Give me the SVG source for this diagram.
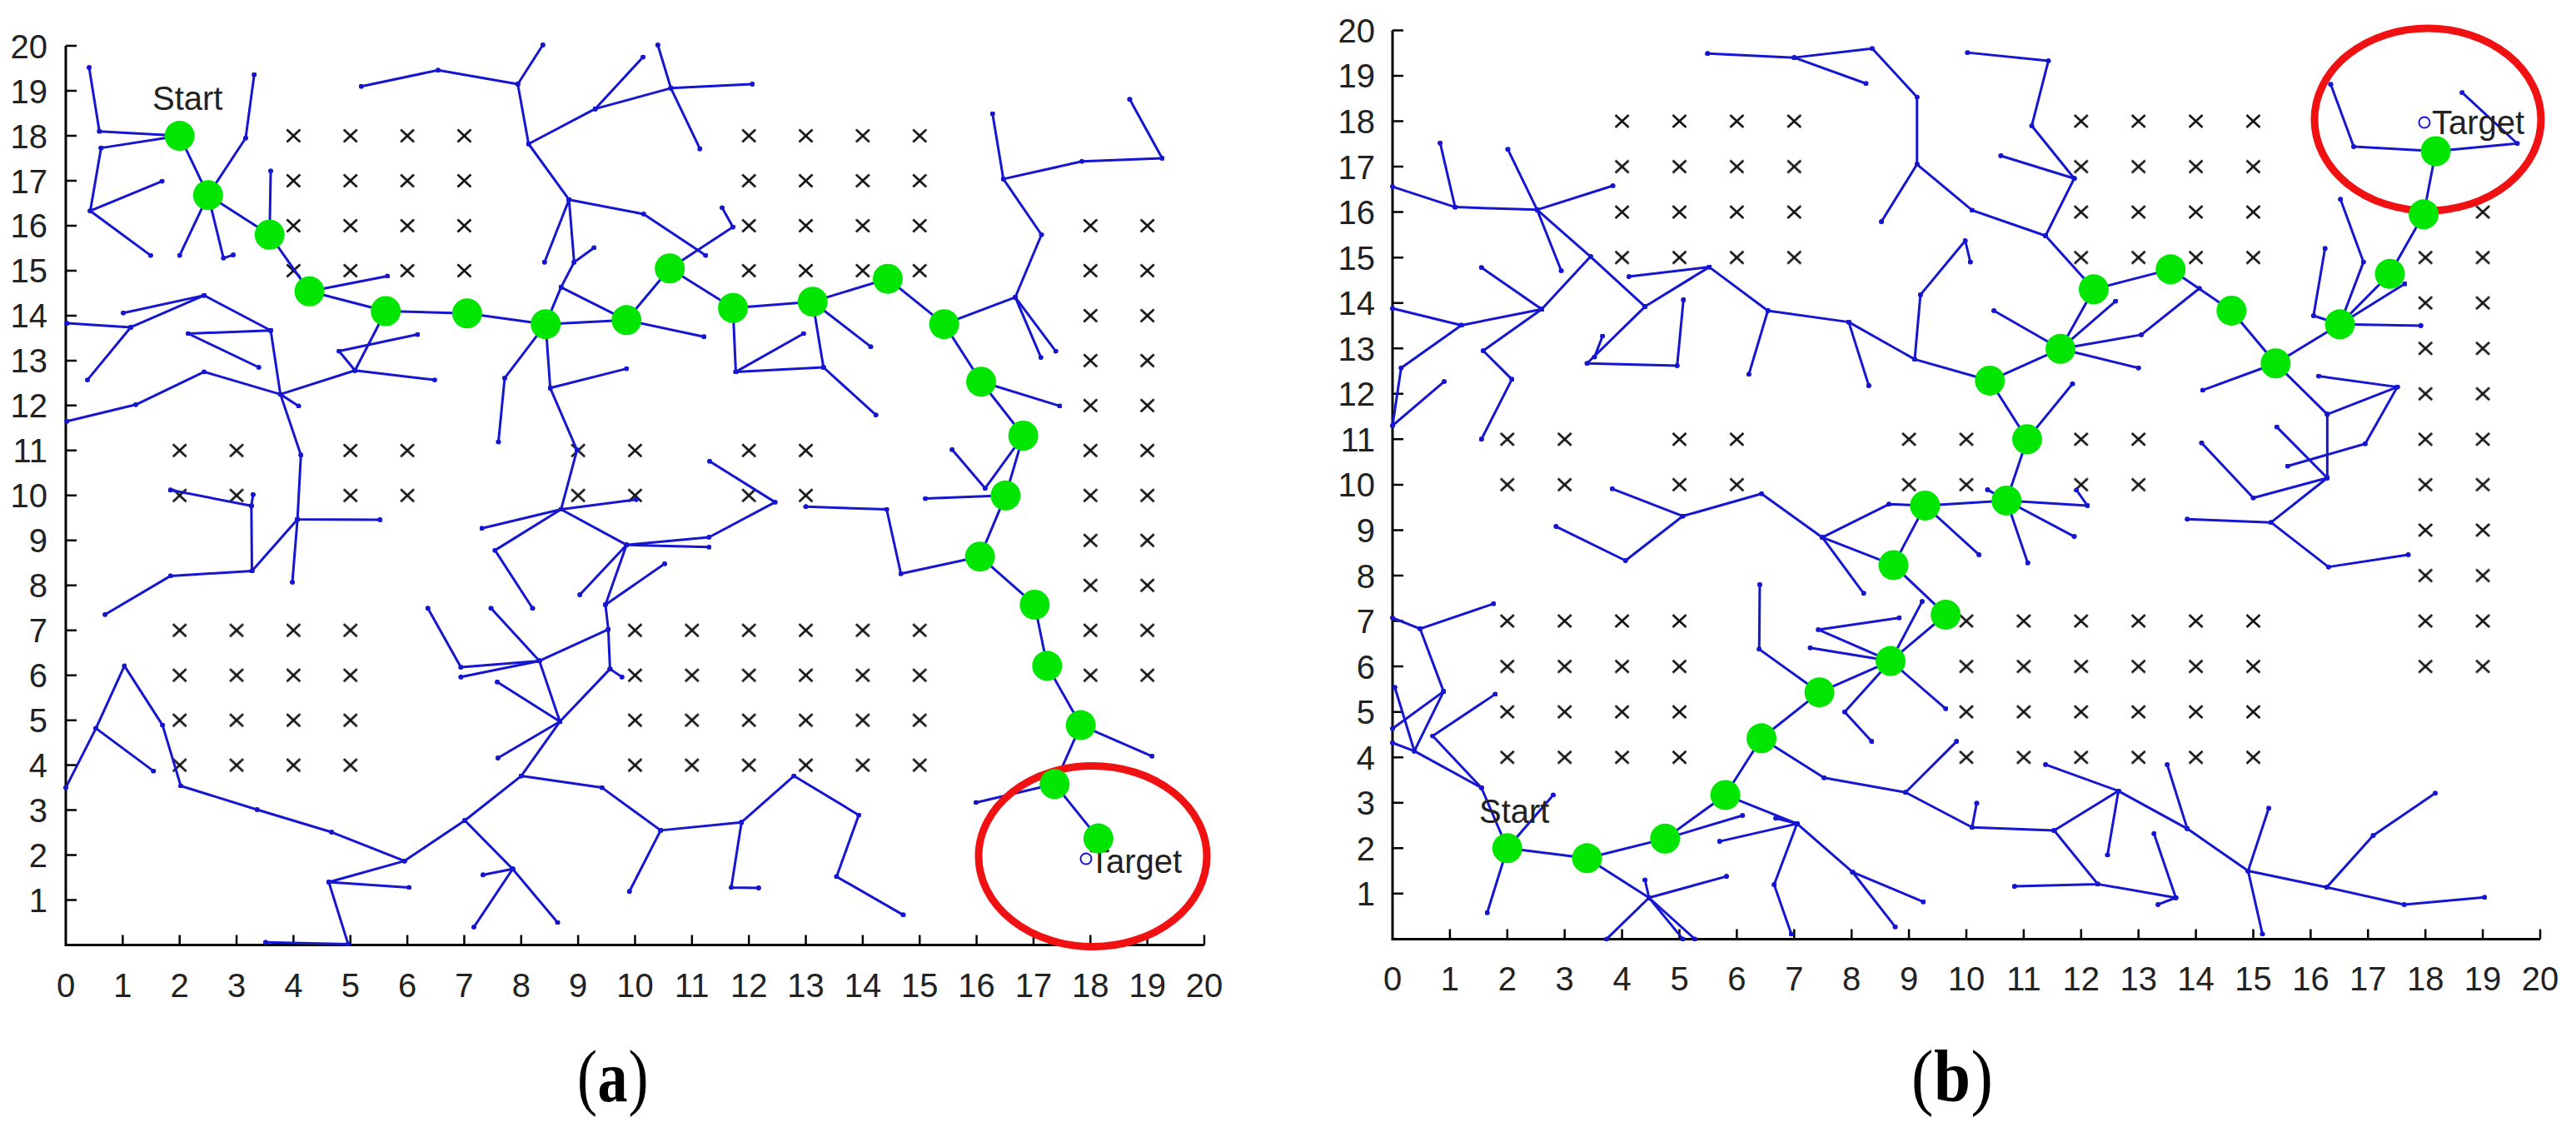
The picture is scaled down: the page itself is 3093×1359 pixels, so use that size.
<svg xmlns="http://www.w3.org/2000/svg" width="3093" height="1359" viewBox="0 0 3093 1359">
<style>
.t{fill:none;stroke:#1616d0;stroke-width:3;stroke-linejoin:round;stroke-linecap:round;vector-effect:non-scaling-stroke;marker-start:url(#dot);marker-mid:url(#dot);marker-end:url(#dot)}
.gn{fill:#00e600}
.ax{fill:none;stroke:#000;stroke-width:3}
.tk{fill:none;stroke:#000;stroke-width:2.5}
.lb{font-family:"Liberation Sans",Arial,sans-serif;font-size:40px;fill:#222}
.yl{text-anchor:end}
.xl{text-anchor:middle}
.red{fill:none;stroke:#f01212;stroke-width:9}
.tg{fill:none;stroke:#1616d0;stroke-width:2}
.cap{font-family:"Liberation Serif","Times New Roman",serif;font-size:88px;fill:#000}
.bd{font-weight:bold}
</style>
<defs>
<marker id="dot" viewBox="-1 -1 2 2" markerWidth="0.09" markerHeight="0.11" markerUnits="userSpaceOnUse" preserveAspectRatio="none" refX="0" refY="0"><circle r="1" fill="#1616d0"/></marker>
<pattern id="obsA" patternUnits="userSpaceOnUse" x="44.825" y="1107.515" width="68.35" height="53.97"><path d="M26.175,19.485L42.175,34.485M26.175,34.485L42.175,19.485" stroke="#111" stroke-width="2.6"/></pattern>
<pattern id="obsB" patternUnits="userSpaceOnUse" x="1637.55" y="1100.125" width="68.9" height="54.55"><path d="M26.45,19.775L42.45,34.775M26.45,34.775L42.45,19.775" stroke="#111" stroke-width="2.6"/></pattern>
</defs>
<rect width="3093" height="1359" fill="#fff"/>

<!-- ================= PANEL A ================= -->
<g id="panel-a">
<g id="obstacles-a" fill="url(#obsA)">
<rect x="318.225" y="136.055" width="273.4" height="215.88"/>
<rect x="865.025" y="136.055" width="273.4" height="215.88"/>
<rect x="1275.125" y="243.995" width="136.7" height="593.67"/>
<rect x="181.525" y="513.845" width="136.7" height="107.94"/>
<rect x="386.575" y="513.845" width="136.7" height="107.94"/>
<rect x="659.975" y="513.845" width="136.7" height="107.94"/>
<rect x="865.025" y="513.845" width="136.7" height="107.94"/>
<rect x="181.525" y="729.725" width="273.4" height="215.88"/>
<rect x="728.325" y="729.725" width="410.1" height="215.88"/>
</g>
<g id="axes-a">
<path class="ax" d="M79 55.1V1134.5H1446"/>
<path class="tk" d="M79 1080.53h13M79 1026.56h13M79 972.59h13M79 918.62h13M79 864.65h13M79 810.68h13M79 756.71h13M79 702.74h13M79 648.77h13M79 594.8h13M79 540.83h13M79 486.86h13M79 432.89h13M79 378.92h13M79 324.95h13M79 270.98h13M79 217.01h13M79 163.04h13M79 109.07h13M79 55.1h13M147.35 1134.5v-12M215.7 1134.5v-12M284.05 1134.5v-12M352.4 1134.5v-12M420.75 1134.5v-12M489.1 1134.5v-12M557.45 1134.5v-12M625.8 1134.5v-12M694.15 1134.5v-12M762.5 1134.5v-12M830.85 1134.5v-12M899.2 1134.5v-12M967.55 1134.5v-12M1035.9 1134.5v-12M1104.25 1134.5v-12M1172.6 1134.5v-12M1240.95 1134.5v-12M1309.3 1134.5v-12M1377.65 1134.5v-12M1446 1134.5v-12"/>
<text class="lb yl"><tspan x="57" y="1095.03">1</tspan><tspan x="57" y="1041.06">2</tspan><tspan x="57" y="987.09">3</tspan><tspan x="57" y="933.12">4</tspan><tspan x="57" y="879.15">5</tspan><tspan x="57" y="825.18">6</tspan><tspan x="57" y="771.21">7</tspan><tspan x="57" y="717.24">8</tspan><tspan x="57" y="663.27">9</tspan><tspan x="57" y="609.3">10</tspan><tspan x="57" y="555.33">11</tspan><tspan x="57" y="501.36">12</tspan><tspan x="57" y="447.39">13</tspan><tspan x="57" y="393.42">14</tspan><tspan x="57" y="339.45">15</tspan><tspan x="57" y="285.48">16</tspan><tspan x="57" y="231.51">17</tspan><tspan x="57" y="177.54">18</tspan><tspan x="57" y="123.57">19</tspan><tspan x="57" y="69.6">20</tspan></text>
<text class="lb xl"><tspan x="79" y="1197">0</tspan><tspan x="147.35" y="1197">1</tspan><tspan x="215.7" y="1197">2</tspan><tspan x="284.05" y="1197">3</tspan><tspan x="352.4" y="1197">4</tspan><tspan x="420.75" y="1197">5</tspan><tspan x="489.1" y="1197">6</tspan><tspan x="557.45" y="1197">7</tspan><tspan x="625.8" y="1197">8</tspan><tspan x="694.15" y="1197">9</tspan><tspan x="762.5" y="1197">10</tspan><tspan x="830.85" y="1197">11</tspan><tspan x="899.2" y="1197">12</tspan><tspan x="967.55" y="1197">13</tspan><tspan x="1035.9" y="1197">14</tspan><tspan x="1104.25" y="1197">15</tspan><tspan x="1172.6" y="1197">16</tspan><tspan x="1240.95" y="1197">17</tspan><tspan x="1309.3" y="1197">18</tspan><tspan x="1377.65" y="1197">19</tspan><tspan x="1446" y="1197">20</tspan></text>
</g>
<g id="connectors-a" transform="matrix(68.35 0 0 -53.97 79 1134.5)">
<polyline class="t" points="0.41,19.52 0.59,18.1 2,18"/>
<polyline class="t" points="0.62,17.73 2,18"/>
<polyline class="t" points="0.62,17.73 0.43,16.33 1.69,16.99"/>
<polyline class="t" points="0.43,16.33 1.49,15.34"/>
<polyline class="t" points="3.31,19.36 3.16,17.95 2.5,16.68"/>
<polyline class="t" points="2.5,16.68 2,15.34"/>
<polyline class="t" points="2.5,16.68 2.77,15.28 2.94,15.35"/>
<polyline class="t" points="3.58,15.8 3.6,17.22"/>
<polyline class="t" points="4.28,14.54 5.65,14.88"/>
<polyline class="t" points="5.62,14.1 5.08,12.78 4.8,13.21 6.18,13.58"/>
<polyline class="t" points="5.08,12.78 6.48,12.57"/>
<polyline class="t" points="5.08,12.78 3.77,12.25 4.09,11.99"/>
<polyline class="t" points="3.77,12.25 3.6,13.67 2.15,13.6 3.39,12.85"/>
<polyline class="t" points="3.6,13.67 2.43,14.45 1.01,14.06"/>
<polyline class="t" points="2.43,14.45 1.14,13.74 0.02,13.83"/>
<polyline class="t" points="1.14,13.74 0.38,12.57"/>
<polyline class="t" points="3.77,12.25 2.43,12.75 1.23,12.02 0.02,11.65"/>
<polyline class="t" points="3.77,12.25 4.13,10.9 4.07,9.47 5.52,9.46"/>
<polyline class="t" points="4.07,9.47 3.98,8.07"/>
<polyline class="t" points="4.07,9.47 3.27,8.32 3.26,9.77 3.29,10.02"/>
<polyline class="t" points="3.26,9.77 1.84,10.12"/>
<polyline class="t" points="3.27,8.32 1.84,8.21 0.69,7.35"/>
<polyline class="t" points="8.43,13.81 7.71,12.61 7.6,11.19"/>
<polyline class="t" points="8.43,13.81 8.51,12.39 9.85,12.82"/>
<polyline class="t" points="8.51,12.39 8.98,11.01 8.7,9.69"/>
<polyline class="t" points="8.43,13.81 8.7,14.63 8.93,15.19 9.28,15.51"/>
<polyline class="t" points="8.7,14.63 9.85,13.9"/>
<polyline class="t" points="8.93,15.19 8.84,16.58 8.41,15.19"/>
<polyline class="t" points="8.84,16.58 8.13,17.82 7.94,19.15 8.38,20.02"/>
<polyline class="t" points="7.94,19.15 6.54,19.46 5.19,19.1"/>
<polyline class="t" points="8.13,17.82 9.3,18.6 10.14,19.75"/>
<polyline class="t" points="9.3,18.6 10.63,19.06 10.4,20.02"/>
<polyline class="t" points="10.63,19.06 12.06,19.15"/>
<polyline class="t" points="10.63,19.06 11.14,17.71"/>
<polyline class="t" points="8.84,16.58 10.15,16.26 11.24,15.34"/>
<polyline class="t" points="10.61,15.05 11.72,15.97 11.53,16.4"/>
<polyline class="t" points="9.85,13.9 11.21,13.53"/>
<polyline class="t" points="11.72,14.17 11.77,12.75 12.96,13.6"/>
<polyline class="t" points="11.77,12.75 13.31,12.85 13.12,14.31"/>
<polyline class="t" points="13.31,12.85 14.23,11.79"/>
<polyline class="t" points="13.12,14.31 14.14,13.31"/>
<polyline class="t" points="15.43,13.81 16.68,14.41 17.14,15.8 16.47,17.04 16.28,18.49"/>
<polyline class="t" points="16.47,17.04 17.85,17.43 19.26,17.5 18.69,18.81"/>
<polyline class="t" points="16.68,14.41 17.13,13.07"/>
<polyline class="t" points="16.68,14.41 17.39,13.21"/>
<polyline class="t" points="16.08,12.53 17.46,11.99"/>
<polyline class="t" points="15.57,11.02 16.15,10.16 16.82,11.33"/>
<polyline class="t" points="15.1,9.93 16.51,10"/>
<polyline class="t" points="16.06,8.64 14.67,8.26 14.42,9.69 13,9.75"/>
<polyline class="t" points="17.83,4.89 19.08,4.2"/>
<polyline class="t" points="17.37,3.58 15.99,3.17"/>
<polyline class="t" points="11.31,10.76 12.46,9.85 11.3,9.07 9.85,8.9 11.3,8.85"/>
<polyline class="t" points="8.7,9.69 9.85,8.9"/>
<polyline class="t" points="8.7,9.69 10.02,9.91"/>
<polyline class="t" points="8.7,9.69 7.54,8.78 8.2,7.49"/>
<polyline class="t" points="8.7,9.69 7.31,9.27"/>
<polyline class="t" points="9.03,7.79 9.85,8.9 9.48,7.57 10.52,8.48"/>
<polyline class="t" points="9.48,7.57 9.53,7.02 9.56,6.14 9.77,5.96"/>
<polyline class="t" points="9.56,6.14 8.68,4.97"/>
<polyline class="t" points="9.53,7.02 8.32,6.32 6.94,6.18 6.36,7.49"/>
<polyline class="t" points="8.32,6.32 6.94,5.96"/>
<polyline class="t" points="8.32,6.32 7.47,7.49"/>
<polyline class="t" points="8.32,6.32 8.68,4.97 7.58,5.85"/>
<polyline class="t" points="8.68,4.97 7.59,4.16"/>
<polyline class="t" points="8.68,4.97 8,3.76 7.01,2.77 5.95,1.87"/>
<polyline class="t" points="8,3.76 9.42,3.5 10.45,2.55 11.87,2.73 12.79,3.76 13.93,2.89 13.54,1.52 14.71,0.67"/>
<polyline class="t" points="10.45,2.55 9.9,1.19"/>
<polyline class="t" points="11.87,2.73 11.69,1.28 12.17,1.27"/>
<polyline class="t" points="7.01,2.77 7.85,1.69 8.64,0.5"/>
<polyline class="t" points="7.85,1.69 7.17,0.4"/>
<polyline class="t" points="7.85,1.69 7.33,1.56"/>
<polyline class="t" points="5.95,1.87 4.62,1.4 4.96,0.02 3.51,0.06"/>
<polyline class="t" points="4.62,1.4 6.03,1.28"/>
<polyline class="t" points="5.95,1.87 4.67,2.51 3.36,3.01 2.02,3.54 1.7,4.89 1.03,6.21 0.53,4.82 0,3.5"/>
<polyline class="t" points="0.53,4.82 1.54,3.87"/>
<polyline id="path-a" class="t" points="2,18 2.5,16.68 3.58,15.8 4.28,14.54 5.62,14.1 7.05,14.05 8.43,13.81 9.85,13.9 10.61,15.05 11.72,14.17 13.12,14.31 14.44,14.82 15.43,13.81 16.08,12.53 16.82,11.33 16.51,10 16.06,8.64 17.02,7.57 17.24,6.21 17.83,4.89 17.37,3.58 18.14,2.37"/>
</g>
<g id="labels-a">
<text class="lb" x="183" y="132">Start</text>
<circle class="tg" cx="1304" cy="1031" r="6.5"/>
<text class="lb" x="1308" y="1048">Target</text>
</g>
<ellipse id="goal-region-a" class="red" cx="1312" cy="1028" rx="137" ry="108.5"/>
<g id="nodes-a" transform="matrix(68.35 0 0 -53.97 79 1134.5)">
<ellipse id="a-n1" class="gn" cx="2" cy="18" rx="0.263" ry="0.334"/>
<ellipse id="a-n2" class="gn" cx="2.5" cy="16.68" rx="0.263" ry="0.334"/>
<ellipse id="a-n3" class="gn" cx="3.58" cy="15.8" rx="0.263" ry="0.334"/>
<ellipse id="a-n4" class="gn" cx="4.28" cy="14.54" rx="0.263" ry="0.334"/>
<ellipse id="a-n5" class="gn" cx="5.62" cy="14.1" rx="0.263" ry="0.334"/>
<ellipse id="a-n6" class="gn" cx="7.05" cy="14.05" rx="0.263" ry="0.334"/>
<ellipse id="a-n7" class="gn" cx="8.43" cy="13.81" rx="0.263" ry="0.334"/>
<ellipse id="a-n8" class="gn" cx="9.85" cy="13.9" rx="0.263" ry="0.334"/>
<ellipse id="a-n9" class="gn" cx="10.61" cy="15.05" rx="0.263" ry="0.334"/>
<ellipse id="a-n10" class="gn" cx="11.72" cy="14.17" rx="0.263" ry="0.334"/>
<ellipse id="a-n11" class="gn" cx="13.12" cy="14.31" rx="0.263" ry="0.334"/>
<ellipse id="a-n12" class="gn" cx="14.44" cy="14.82" rx="0.263" ry="0.334"/>
<ellipse id="a-n13" class="gn" cx="15.43" cy="13.81" rx="0.263" ry="0.334"/>
<ellipse id="a-n14" class="gn" cx="16.08" cy="12.53" rx="0.263" ry="0.334"/>
<ellipse id="a-n15" class="gn" cx="16.82" cy="11.33" rx="0.263" ry="0.334"/>
<ellipse id="a-n16" class="gn" cx="16.51" cy="10" rx="0.263" ry="0.334"/>
<ellipse id="a-n17" class="gn" cx="16.06" cy="8.64" rx="0.263" ry="0.334"/>
<ellipse id="a-n18" class="gn" cx="17.02" cy="7.57" rx="0.263" ry="0.334"/>
<ellipse id="a-n19" class="gn" cx="17.24" cy="6.21" rx="0.263" ry="0.334"/>
<ellipse id="a-n20" class="gn" cx="17.83" cy="4.89" rx="0.263" ry="0.334"/>
<ellipse id="a-n21" class="gn" cx="17.37" cy="3.58" rx="0.263" ry="0.334"/>
<ellipse id="a-n22" class="gn" cx="18.14" cy="2.37" rx="0.263" ry="0.334"/>
</g>
<g id="caption-a" transform="translate(693 1322) scale(0.82 1)">
<text class="cap" x="0" y="0">(</text>
<text class="cap bd" x="30" y="0">a</text>
<text class="cap" x="75" y="0">)</text>
</g>
</g>

<!-- ================= PANEL B ================= -->
<g id="panel-b">
<g id="obstacles-b" fill="url(#obsB)">
<rect x="1913.15" y="118.225" width="275.6" height="218.2"/>
<rect x="2464.35" y="118.225" width="275.6" height="218.2"/>
<rect x="2877.75" y="227.325" width="137.8" height="600.05"/>
<rect x="1775.35" y="500.075" width="137.8" height="109.1"/>
<rect x="1982.05" y="500.075" width="137.8" height="109.1"/>
<rect x="2257.65" y="500.075" width="137.8" height="109.1"/>
<rect x="2464.35" y="500.075" width="137.8" height="109.1"/>
<rect x="1775.35" y="718.275" width="275.6" height="218.2"/>
<rect x="2326.55" y="718.275" width="413.4" height="218.2"/>
</g>
<g id="axes-b">
<path class="ax" d="M1672 36.4V1127.4H3050"/>
<path class="tk" d="M1672 1072.85h13M1672 1018.3h13M1672 963.75h13M1672 909.2h13M1672 854.65h13M1672 800.1h13M1672 745.55h13M1672 691h13M1672 636.45h13M1672 581.9h13M1672 527.35h13M1672 472.8h13M1672 418.25h13M1672 363.7h13M1672 309.15h13M1672 254.6h13M1672 200.05h13M1672 145.5h13M1672 90.95h13M1672 36.4h13M1740.9 1127.4v-12M1809.8 1127.4v-12M1878.7 1127.4v-12M1947.6 1127.4v-12M2016.5 1127.4v-12M2085.4 1127.4v-12M2154.3 1127.4v-12M2223.2 1127.4v-12M2292.1 1127.4v-12M2361 1127.4v-12M2429.9 1127.4v-12M2498.8 1127.4v-12M2567.7 1127.4v-12M2636.6 1127.4v-12M2705.5 1127.4v-12M2774.4 1127.4v-12M2843.3 1127.4v-12M2912.2 1127.4v-12M2981.1 1127.4v-12M3050 1127.4v-12"/>
<text class="lb yl"><tspan x="1651" y="1087.35">1</tspan><tspan x="1651" y="1032.8">2</tspan><tspan x="1651" y="978.25">3</tspan><tspan x="1651" y="923.7">4</tspan><tspan x="1651" y="869.15">5</tspan><tspan x="1651" y="814.6">6</tspan><tspan x="1651" y="760.05">7</tspan><tspan x="1651" y="705.5">8</tspan><tspan x="1651" y="650.95">9</tspan><tspan x="1651" y="596.4">10</tspan><tspan x="1651" y="541.85">11</tspan><tspan x="1651" y="487.3">12</tspan><tspan x="1651" y="432.75">13</tspan><tspan x="1651" y="378.2">14</tspan><tspan x="1651" y="323.65">15</tspan><tspan x="1651" y="269.1">16</tspan><tspan x="1651" y="214.55">17</tspan><tspan x="1651" y="160">18</tspan><tspan x="1651" y="105.45">19</tspan><tspan x="1651" y="50.9">20</tspan></text>
<text class="lb xl"><tspan x="1672" y="1189">0</tspan><tspan x="1740.9" y="1189">1</tspan><tspan x="1809.8" y="1189">2</tspan><tspan x="1878.7" y="1189">3</tspan><tspan x="1947.6" y="1189">4</tspan><tspan x="2016.5" y="1189">5</tspan><tspan x="2085.4" y="1189">6</tspan><tspan x="2154.3" y="1189">7</tspan><tspan x="2223.2" y="1189">8</tspan><tspan x="2292.1" y="1189">9</tspan><tspan x="2361" y="1189">10</tspan><tspan x="2429.9" y="1189">11</tspan><tspan x="2498.8" y="1189">12</tspan><tspan x="2567.7" y="1189">13</tspan><tspan x="2636.6" y="1189">14</tspan><tspan x="2705.5" y="1189">15</tspan><tspan x="2774.4" y="1189">16</tspan><tspan x="2843.3" y="1189">17</tspan><tspan x="2912.2" y="1189">18</tspan><tspan x="2981.1" y="1189">19</tspan><tspan x="3050" y="1189">20</tspan></text>
</g>
<g id="connectors-b" transform="matrix(68.9 0 0 -54.55 1672 1127.4)">
<polyline class="t" points="5.49,19.49 7,19.4 8.36,19.6 9.14,18.53 9.14,17.05 10.1,16.04 11.38,15.48 12.22,14.3"/>
<polyline class="t" points="7,19.4 8.25,18.83"/>
<polyline class="t" points="9.14,17.05 8.52,15.79"/>
<polyline class="t" points="11.38,15.48 11.88,16.74 11.14,17.9 11.43,19.33 10.02,19.51"/>
<polyline class="t" points="11.88,16.74 10.6,17.24"/>
<polyline class="t" points="0,16.56 1.09,16.11 0.83,17.52"/>
<polyline class="t" points="1.09,16.11 2.52,16.05 3.84,16.58"/>
<polyline class="t" points="2.52,16.05 2.01,17.38"/>
<polyline class="t" points="2.52,16.05 2.94,14.71"/>
<polyline class="t" points="2.52,16.05 3.45,15.02 4.4,13.92"/>
<polyline class="t" points="3.45,15.02 2.6,13.86 1.58,12.95 2.08,12.32 1.55,11"/>
<polyline class="t" points="2.6,13.86 1.55,14.78"/>
<polyline class="t" points="2.6,13.86 1.2,13.51 0,13.88"/>
<polyline class="t" points="1.2,13.51 0.15,12.57 0,11.3 0.9,12.27"/>
<polyline class="t" points="4.4,13.92 5.52,14.79 4.12,14.58"/>
<polyline class="t" points="5.52,14.79 6.54,13.83 7.95,13.58 9.1,12.76 10.41,12.29"/>
<polyline class="t" points="6.54,13.83 6.21,12.43"/>
<polyline class="t" points="7.95,13.58 8.3,12.18"/>
<polyline class="t" points="4.4,13.92 3.39,12.67 4.96,12.62 5.07,14.07"/>
<polyline class="t" points="3.52,12.81 3.66,13.27"/>
<polyline class="t" points="9.1,12.76 9.2,14.18 9.98,15.37 10.07,14.9"/>
<polyline class="t" points="10.48,13.83 11.64,12.99 12.6,14.04"/>
<polyline class="t" points="11.64,12.99 13.05,13.3 14.06,14.32"/>
<polyline class="t" points="11.64,12.99 13,12.57"/>
<polyline class="t" points="11.06,11 11.85,12.22"/>
<polyline class="t" points="15.39,12.67 14.12,12.08"/>
<polyline class="t" points="15.39,12.67 16.29,11.55 17.51,12.15 16.14,12.39"/>
<polyline class="t" points="17.51,12.15 16.95,10.9 15.6,10.41"/>
<polyline class="t" points="16.29,11.55 16.29,10.15"/>
<polyline class="t" points="15.41,11.27 16.29,10.15"/>
<polyline class="t" points="14.1,10.92 15,9.71 16.29,10.15 15.31,9.17 13.85,9.24"/>
<polyline class="t" points="15.31,9.17 16.31,8.19 17.7,8.46"/>
<polyline class="t" points="16.51,13.53 17.92,13.5"/>
<polyline class="t" points="16.51,13.53 16.05,13.72 16.25,15.2"/>
<polyline class="t" points="16.51,13.53 16.92,14.9 16.52,16.28"/>
<polyline class="t" points="16.51,13.53 17.64,14.42"/>
<polyline class="t" points="18.18,17.34 16.75,17.44 16.35,18.81"/>
<polyline class="t" points="18.18,17.34 19.6,17.51 18.64,18.63"/>
<polyline class="t" points="3.83,9.91 5.06,9.31 6.43,9.8 7.49,8.84 8.65,9.57 9.28,9.54"/>
<polyline class="t" points="5.06,9.31 4.06,8.33 2.85,9.08"/>
<polyline class="t" points="7.49,8.84 8.73,8.23"/>
<polyline class="t" points="7.49,8.84 8.21,7.61"/>
<polyline class="t" points="6.4,7.8 6.39,6.38 7.44,5.43"/>
<polyline class="t" points="8.83,7.07 7.42,6.81 8.68,6.12"/>
<polyline class="t" points="7.28,6.41 8.68,6.12"/>
<polyline class="t" points="8.68,6.12 7.88,5 8.35,4.35"/>
<polyline class="t" points="6.43,4.42 7.52,3.55 8.94,3.23 9.83,4.35"/>
<polyline class="t" points="8.94,3.23 10.1,2.46 11.53,2.39 12.65,3.26 11.38,3.84"/>
<polyline class="t" points="10.1,2.46 10.18,2.99"/>
<polyline class="t" points="11.53,2.39 12.29,1.21 10.84,1.16"/>
<polyline class="t" points="12.29,1.21 13.65,0.91 13.34,0.76"/>
<polyline class="t" points="13.65,0.91 13.27,2.32"/>
<polyline class="t" points="12.65,3.26 12.46,1.85"/>
<polyline class="t" points="12.65,3.26 13.85,2.43 13.5,3.84"/>
<polyline class="t" points="13.85,2.43 14.91,1.5 15.27,2.88"/>
<polyline class="t" points="14.91,1.5 15.16,0.11"/>
<polyline class="t" points="14.91,1.5 16.28,1.14 17.09,2.28 18.17,3.21"/>
<polyline class="t" points="16.28,1.14 17.63,0.76 19.03,0.92"/>
<polyline class="t" points="5.8,3.17 7.05,2.54 8.02,1.47 8.76,0.27"/>
<polyline class="t" points="8.02,1.47 9.25,0.82"/>
<polyline class="t" points="7.05,2.54 5.7,2.15"/>
<polyline class="t" points="7.05,2.54 6.68,2.66"/>
<polyline class="t" points="7.05,2.54 6.65,1.2 6.95,0.11"/>
<polyline class="t" points="4.75,2.21 6.1,2.72"/>
<polyline class="t" points="3.39,1.78 4.47,0.91 5.27,0"/>
<polyline class="t" points="4.47,0.91 5.82,1.38"/>
<polyline class="t" points="4.47,0.91 4.4,1.3"/>
<polyline class="t" points="4.47,0.91 3.73,0"/>
<polyline class="t" points="4.47,0.91 5.06,0"/>
<polyline class="t" points="2,2 1.65,0.58"/>
<polyline class="t" points="2,2 2.8,3.17"/>
<polyline class="t" points="2,2 1.55,3.33 0.38,4.14"/>
<polyline class="t" points="0,7.07 0.48,6.83 1.76,7.38"/>
<polyline class="t" points="0.48,6.83 0.89,5.45 0,4.63"/>
<polyline class="t" points="0.89,5.45 0.38,4.14"/>
<polyline class="t" points="0.04,5.54 0.38,4.14"/>
<polyline class="t" points="0,4.32 0.38,4.14"/>
<polyline class="t" points="1.55,3.33 0.7,4.47 1.79,5.39"/>
<polyline class="t" points="9.28,9.54 10.22,8.46"/>
<polyline class="t" points="10.7,9.65 12.11,9.54 11.92,9.88"/>
<polyline class="t" points="10.7,9.65 11.88,8.86"/>
<polyline class="t" points="10.7,9.65 11.07,8.28"/>
<polyline class="t" points="10.7,9.65 10.37,9.89"/>
<polyline class="t" points="8.68,6.12 9.23,7.43"/>
<polyline class="t" points="8.68,6.12 9.64,5.07"/>
<polyline id="path-b" class="t" points="2,2 3.39,1.78 4.75,2.21 5.8,3.17 6.43,4.42 7.44,5.43 8.68,6.12 9.64,7.14 8.73,8.23 9.28,9.54 10.7,9.65 11.06,11 10.41,12.29 11.64,12.99 12.22,14.3 13.56,14.74 14.62,13.83 15.39,12.67 16.51,13.53 17.38,14.64 17.97,15.95 18.18,17.34"/>
</g>
<g id="labels-b">
<text class="lb" x="1776" y="988">Start</text>
<circle class="tg" cx="2911" cy="147" r="6.5"/>
<text class="lb" x="2920" y="161">Target</text>
</g>
<ellipse id="goal-region-b" class="red" cx="2915" cy="143.5" rx="136" ry="109.5"/>
<g id="nodes-b" transform="matrix(68.9 0 0 -54.55 1672 1127.4)">
<ellipse id="b-n1" class="gn" cx="2" cy="2" rx="0.261" ry="0.33"/>
<ellipse id="b-n2" class="gn" cx="3.39" cy="1.78" rx="0.261" ry="0.33"/>
<ellipse id="b-n3" class="gn" cx="4.75" cy="2.21" rx="0.261" ry="0.33"/>
<ellipse id="b-n4" class="gn" cx="5.8" cy="3.17" rx="0.261" ry="0.33"/>
<ellipse id="b-n5" class="gn" cx="6.43" cy="4.42" rx="0.261" ry="0.33"/>
<ellipse id="b-n6" class="gn" cx="7.44" cy="5.43" rx="0.261" ry="0.33"/>
<ellipse id="b-n7" class="gn" cx="8.68" cy="6.12" rx="0.261" ry="0.33"/>
<ellipse id="b-n8" class="gn" cx="9.64" cy="7.14" rx="0.261" ry="0.33"/>
<ellipse id="b-n9" class="gn" cx="8.73" cy="8.23" rx="0.261" ry="0.33"/>
<ellipse id="b-n10" class="gn" cx="9.28" cy="9.54" rx="0.261" ry="0.33"/>
<ellipse id="b-n11" class="gn" cx="10.7" cy="9.65" rx="0.261" ry="0.33"/>
<ellipse id="b-n12" class="gn" cx="11.06" cy="11" rx="0.261" ry="0.33"/>
<ellipse id="b-n13" class="gn" cx="10.41" cy="12.29" rx="0.261" ry="0.33"/>
<ellipse id="b-n14" class="gn" cx="11.64" cy="12.99" rx="0.261" ry="0.33"/>
<ellipse id="b-n15" class="gn" cx="12.22" cy="14.3" rx="0.261" ry="0.33"/>
<ellipse id="b-n16" class="gn" cx="13.56" cy="14.74" rx="0.261" ry="0.33"/>
<ellipse id="b-n17" class="gn" cx="14.62" cy="13.83" rx="0.261" ry="0.33"/>
<ellipse id="b-n18" class="gn" cx="15.39" cy="12.67" rx="0.261" ry="0.33"/>
<ellipse id="b-n19" class="gn" cx="16.51" cy="13.53" rx="0.261" ry="0.33"/>
<ellipse id="b-n20" class="gn" cx="17.38" cy="14.64" rx="0.261" ry="0.33"/>
<ellipse id="b-n21" class="gn" cx="17.97" cy="15.95" rx="0.261" ry="0.33"/>
<ellipse id="b-n22" class="gn" cx="18.18" cy="17.34" rx="0.261" ry="0.33"/>
</g>
<g id="caption-b" transform="translate(2295 1322) scale(0.9 1)">
<text class="cap" x="0" y="0">(</text>
<text class="cap bd" x="30" y="0">b</text>
<text class="cap" x="79.5" y="0">)</text>
</g>
</g>
</svg>
